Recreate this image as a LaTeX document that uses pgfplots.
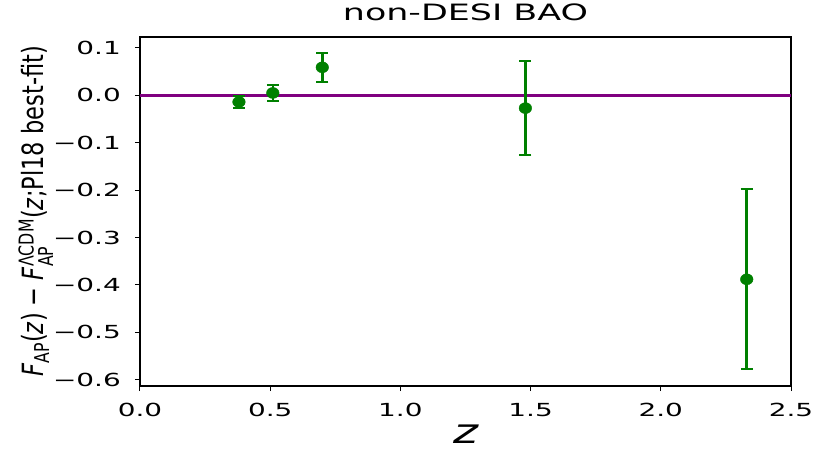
\documentclass[border=0pt]{standalone}
\usepackage{fontspec}
\usepackage{amsmath}
\usepackage{graphicx}
\usepackage{pgfplots}
\pgfplotsset{compat=1.18}
\setmainfont{DejaVu Sans}
\newfontfamily\tickfont{DejaVu Sans}[FakeStretch=1.55]
\newfontfamily\titlefont{DejaVu Sans}[FakeStretch=1.55]
\newfontfamily\zfont{DejaVu Sans}[FakeStretch=1.4]
\definecolor{mgreen}{HTML}{008000}
\definecolor{mpurple}{HTML}{800080}
\begin{document}
\begin{tikzpicture}[x=1pt,y=1pt]
\path[use as bounding box] (-140,-74) rectangle (686,386);
\begin{axis}[
  at={(0,0)}, anchor=south west,
  scale only axis, width=651pt, height=349pt,
  xmin=0, xmax=2.5, ymin=-0.613, ymax=0.123,
  xtick={0,0.5,1,1.5,2,2.5},
  xticklabels={0.0,0.5,1.0,1.5,2.0,2.5},
  ytick={-0.6,-0.5,-0.4,-0.3,-0.2,-0.1,0,0.1},
  yticklabels={−0.6,−0.5,−0.4,−0.3,−0.2,−0.1,0.0,0.1},
  xtick pos=bottom, ytick pos=left, tick align=outside,
  major tick length=5pt,
  every tick/.style={black, line width=1pt},
  axis line style={black, line width=1.3pt},
  xticklabel style={font=\tickfont\fontsize{18}{18}\selectfont, anchor=base, yshift=-25pt, inner sep=0pt},
  yticklabel style={font=\tickfont\fontsize{18}{18}\selectfont, anchor=east, xshift=-14pt, inner sep=0pt},
  title={non-DESI BAO},
  title style={font=\titlefont\fontsize{22.5}{22.5}\selectfont, at={(axis description cs:0.5,1)}, anchor=base, yshift=10pt, inner sep=0pt},
  xlabel={\zfont\itshape z},
  xlabel style={font=\fontsize{34}{34}\selectfont, at={(axis description cs:0.5,0)}, anchor=base, yshift=-57pt, inner sep=0pt},
  ylabel={\scalebox{1}[1.3]{\fontsize{22.5}{22.5}\selectfont\textit{F}$_{\text{AP}}$(\textit{z}) − \textit{F}$_{\text{AP}}^{\text{ΛCDM}}$(\textit{z};Pl18 best-fit)}},
  ylabel style={at={(axis description cs:-0.16,0.5)}, anchor=center, inner sep=0pt},
]
\addplot[mpurple, line width=2.5pt] coordinates {(0,0) (2.5,0)};
\addplot[
  only marks, mgreen,
  mark=*, mark size=5.5pt, mark options={xscale=1.15, fill=mgreen, draw=mgreen},
  error bars/.cd, y dir=both, y explicit,
  error bar style={line width=2.5pt, mgreen},
  error mark options={rotate=90, mark size=6pt, line width=2pt, mgreen},
] coordinates {
  (0.38,-0.014) +- (0,0.012)
  (0.51,0.005) +- (0,0.017)
  (0.70,0.059) +- (0,0.030)
  (1.48,-0.027) +- (0,0.099)
  (2.33,-0.388) +- (0,0.190)
};
\end{axis}
\end{tikzpicture}
\end{document}
